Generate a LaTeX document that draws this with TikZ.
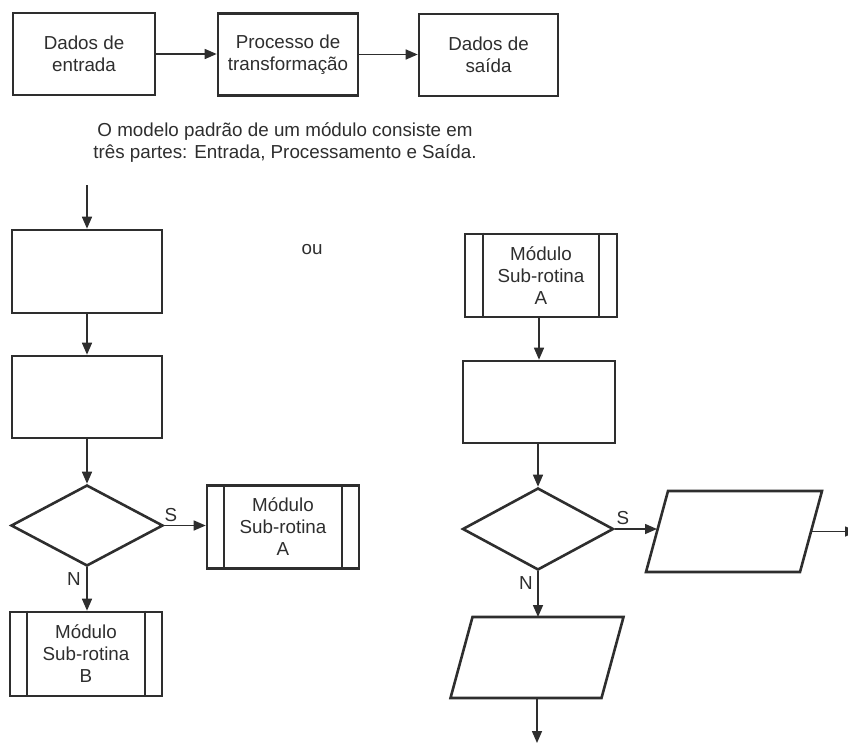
\documentclass[tikz,border=0pt]{standalone}
\usepackage{fontspec}
\setmainfont{Liberation Sans}
\usetikzlibrary{shapes.geometric,arrows.meta}
\definecolor{ink}{HTML}{2E2E2E}
\begin{document}
\begin{tikzpicture}[x=1pt,y=-1pt,
  every node/.style={text=ink,font=\fontsize{18.8}{22}\selectfont},
  box/.style={draw=ink,line width=2.6pt,rectangle,inner sep=0pt,align=center},
  modbox/.style={box,minimum width=152pt,minimum height=83pt},
  decis/.style={draw=ink,line width=2.6pt,diamond,inner sep=0pt,minimum width=152pt,minimum height=81pt,aspect=1.88},
  ghost/.style={rectangle,inner sep=0pt,outer sep=0pt,minimum width=152pt,minimum height=81pt},
  conn/.style={draw=ink,line width=1.5pt,-{Triangle[length=12pt,width=10pt]}},
  lbl/.style={inner sep=0pt}]
\useasboundingbox (0,0) rectangle (848,742);
% top row
\node[box,minimum width=142pt,minimum height=82pt] (b1) at (84,54) {Dados de\\entrada};
\node[box,minimum width=140pt,minimum height=82pt] (b2) at (288,54.5) {Processo de\\transformação};
\node[box,minimum width=139pt,minimum height=82pt] (b3) at (488.5,55) {Dados de\\saída};
\draw[conn] (b1.east) -- (b1.east -| b2.west);
\draw[conn] (b2.east) -- (b2.east -| b3.west);
\node[align=center,inner sep=0pt] (cap) at (285,143) {O modelo padrão de um módulo consiste em\\três partes: Entrada, Processamento e Saída.};
% left column
\coordinate (s0) at (87,185);
\node[box,minimum width=150pt,minimum height=83pt] (l1) at (87,271.5) {};
\node[box,minimum width=150pt,minimum height=82pt] (l2) at (87,397) {};
\node[decis] (d1) at (87,525.5) {};
\node[modbox] (ma) at (283,527) {Módulo\\Sub-rotina\\A};
\node[modbox,minimum height=84pt] (mb) at (86,654) {Módulo\\Sub-rotina\\B};
\foreach \m in {ma,mb}{
  \draw[ink,line width=1.8pt] ([xshift=18pt]\m.north west) -- ([xshift=18pt]\m.south west);
  \draw[ink,line width=1.8pt] ([xshift=-18pt]\m.north east) -- ([xshift=-18pt]\m.south east);
}
\draw[conn] (s0) -- (l1);
\draw[conn] (l1) -- (l2);
\draw[conn] (l2) -- (d1);
\draw[conn] (d1.east) -- (d1.east -| ma.west);
\draw[conn] (d1.south) -- (d1.south |- mb.north);
\node[lbl] (s1) at (171,515) {S};
\node[lbl] (n1) at (74,579) {N};
\node[lbl] (ou) at (312,250) {ou};
% right column
\node[modbox] (mc) at (541,275.5) {Módulo\\Sub-rotina\\A};
\draw[ink,line width=1.8pt] ([xshift=19pt]mc.north west) -- ([xshift=19pt]mc.south west);
\draw[ink,line width=1.8pt] ([xshift=-19pt]mc.north east) -- ([xshift=-19pt]mc.south east);
\node[box,minimum width=152pt,minimum height=82pt] (r1) at (539,402) {};
\node[decis,minimum width=151pt,minimum height=82pt] (d2) at (538,529) {};
\node[ghost,minimum width=154pt] (p1) at (734,531.5) {};
\node[ghost,minimum width=151pt] (p2) at (537,657.5) {};
\foreach \p in {p1,p2}{
  \draw[ink,line width=2.6pt,line join=miter]
    ([xshift=11pt]\p.north west) -- ([xshift=11pt]\p.north east) --
    ([xshift=-11pt]\p.south east) -- ([xshift=-11pt]\p.south west) -- cycle;
}
\coordinate (e1) at (857,531.5);
\coordinate (e2) at (537,743);
\draw[conn] (mc.south -| r1.north) -- (r1.north);
\draw[conn] (r1.south -| d2.north) -- (d2.north);
\draw[conn] (d2.east) -- (d2.east -| p1.west);
\draw[conn] (p1.east) -- (e1);
\draw[conn] (d2.south) -- (d2.south |- p2.north);
\draw[conn] (p2.south) -- (e2);
\node[lbl] (s2) at (623,518) {S};
\node[lbl] (n2) at (526,583) {N};
\end{tikzpicture}
\end{document}
